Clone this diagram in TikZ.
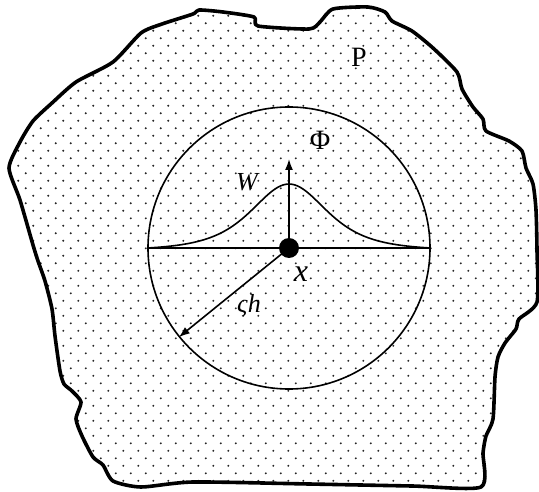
\documentclass[tikz,border=0pt]{standalone}
\usepackage{fontspec}
\setmainfont{Liberation Serif}
\usetikzlibrary{arrows.meta}
\begin{document}
\begin{tikzpicture}[x=1pt,y=-1pt,
  dotc/.style={fill=black!85},
  boundline/.style={line width=3.6pt,line join=round},
  thin line/.style={line width=1.6pt},
  lab/.style={inner sep=0pt}]
\useasboundingbox (0,0) rectangle (539,492);
\path[save path=\bnd] plot[smooth cycle, tension=0.4] coordinates {
 (9,168) (20,142) (33,121) (52,103) (76,82) (113,62) (141,33) (162,24)
 (193,14) (199,10) (223,12) (254,17) (258,26) (309,29) (320,22) (333,9)
 (368,7) (385,12) (392,21) (412,31) (433,48) (457,72) (462,89) (473,107)
 (483,119) (486,131) (509,141) (522,151) (526,168) (533,184) (536,210)
 (537,250) (537,302) (519,319) (516,329) (505,343) (498,357) (495,377)
 (493,419) (486,436) (483,453) (481,487) (412,486) (309,484) (193,482)
 (141,487) (113,481) (103,465) (93,457) (82,436) (76,419) (81,402)
 (72,391) (64,384) (60,371) (55,336) (52,309) (45,281) (38,261) (33,245) (20,200)};
\begin{scope}
\clip[use path=\bnd];
\foreach \j in {0,...,66}{
  \foreach \i in {0,...,36}{
    \fill[dotc] ({\i*15+mod(\j,2)*7.5+3.3},{\j*7.5+0.8}) circle (1.1);
  }
}
\end{scope}
\draw[boundline, use path=\bnd];
% circle
\node[circle, draw, thin line, minimum size=282pt, inner sep=0pt] (C) at (289,248) {};
\draw[thin line] (C.west) -- (C.east);
% kernel
\draw[thin line] plot[domain=-141:141, samples=101]
  ({289+\x},{248-64*((1/(1+(\x/70)^2)^2)-0.0386)/0.9614});
% center point
\node[circle, fill=black, minimum size=20pt, inner sep=0pt] (X) at (289,248) {};
\coordinate (phiTip) at (289,159);
\draw[thin line,-{Latex[length=11pt,width=8pt]}] (X.center) -- (phiTip);
\draw[thin line,-{Latex[length=11pt,width=8pt]}] (X.center) -- (C.219);
% labels
\node[lab] (P) at (359,57) {\fontsize{28}{32}\selectfont P};
\node[lab] (Phi) at (320,140) {\fontsize{28}{32}\selectfont Φ};
\node[lab] (W) at (247,182) {\fontsize{26}{30}\selectfont\itshape W};
\node[lab] (xl) at (301,274) {\fontsize{32}{36}\selectfont\itshape x};
\node[lab] (zh) at (249,306) {\fontsize{26}{30}\selectfont\itshape ςh};
\end{tikzpicture}
\end{document}
